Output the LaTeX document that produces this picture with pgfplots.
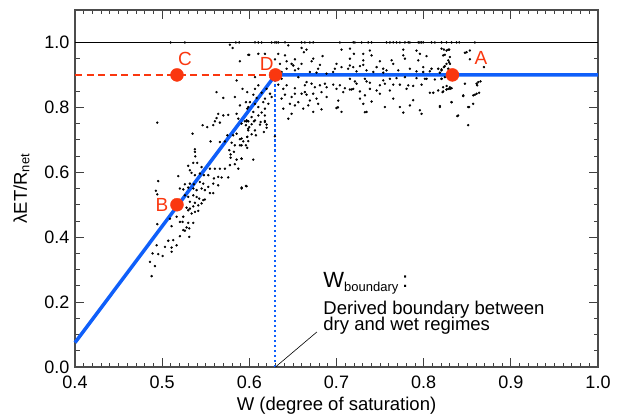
\documentclass[border=0pt]{standalone}
\usepackage{fontspec}
\setmainfont{Liberation Sans}
\usepackage{pgfplots}
\pgfplotsset{compat=1.18}
\definecolor{myred}{RGB}{250,55,15}
\definecolor{myblue}{RGB}{15,95,250}
\begin{document}
\begin{tikzpicture}
\begin{axis}[
  name=ax,
  scale only axis, width=523pt, height=357pt,
  xmin=0.4, xmax=1.0, ymin=0, ymax=1.1,
  xtick={0.4,0.5,...,1.0}, ytick={0,0.2,...,1.0},
  minor x tick num=9, minor y tick num=3,
  tick align=inside, major tick length=9pt, minor tick length=4.5pt,
  tick style={black!75, line width=0.8pt},
  axis line style={black!70, line width=1.3pt},
  ticklabel style={font=\fontsize{18}{20}\selectfont},
  xticklabel style={yshift=-5pt},
  yticklabel style={xshift=-2pt},
  /pgf/number format/assume math mode=true,
  /pgf/number format/.cd, fixed, fixed zerofill, precision=1, /pgfplots/.cd,
  xlabel={W (degree of saturation)},
  ylabel={λET/R\textsubscript{net}},
  label style={font=\fontsize{18.5}{20}\selectfont},
  xlabel style={yshift=-2pt},
  ylabel style={yshift=8pt},
  clip=false,
]
\addplot[black, line width=0.8pt] coordinates {(0.4,1.0) (1.0,1.0)};
\addplot[only marks, mark=*, mark size=1pt, black] table {
x y
0.5376 0.663
0.538 0.649
0.5785 0.655
0.5785 0.645
0.5854 0.639
0.5911 0.642
0.5299 0.620
0.5357 0.629
0.5402 0.629
0.5452 0.616
0.5548 0.611
0.5605 0.611
0.5662 0.611
0.5720 0.611
0.5777 0.622
0.5834 0.625
0.5873 0.611
0.5318 0.606
0.5337 0.598
0.5376 0.591
0.5433 0.596
0.5479 0.591
0.5529 0.591
0.5594 0.581
0.5643 0.586
0.5682 0.584
0.5758 0.584
0.5185 0.588
0.4955 0.573
0.5261 0.563
0.5318 0.565
0.5364 0.563
0.5433 0.570
0.5471 0.565
0.5529 0.555
0.5586 0.565
0.5643 0.560
0.5911 0.553
0.5961 0.558
0.4928 0.543
0.4944 0.532
0.5204 0.550
0.5242 0.547
0.5299 0.553
0.5357 0.550
0.5395 0.545
0.5452 0.550
0.5490 0.545
0.5548 0.536
0.5586 0.536
0.5261 0.529
0.5299 0.524
0.5357 0.529
0.5395 0.524
0.5425 0.519
0.5471 0.514
0.5318 0.509
0.5376 0.506
0.5414 0.498
0.5452 0.504
0.5490 0.516
0.5280 0.491
0.5318 0.488
0.5357 0.495
0.5414 0.481
0.5376 0.478
0.5337 0.473
0.5299 0.483
0.5089 0.457
0.5165 0.463
0.5242 0.463
0.5204 0.447
0.5234 0.447
0.5299 0.444
0.5357 0.444
0.4944 0.440
0.5108 0.434
0.5280 0.430
0.5311 0.427
0.5261 0.420
0.5242 0.422
0.5204 0.403
0.5311 0.401
0.5127 0.391
0.5070 0.389
0.5032 0.370
0.5108 0.368
0.5165 0.375
0.5108 0.355
0.4936 0.375
0.4890 0.350
0.4955 0.348
0.5005 0.342
0.4860 0.324
0.4917 0.311
0.4879 0.280
0.5097 1.0
0.5261 1.0
0.5777 0.993
0.5808 0.983
0.5846 1.0
0.5884 1.0
0.5892 0.942
0.5999 0.962
0.5854 0.883
0.5922 0.857
0.5976 0.847
0.5624 0.847
0.5701 0.829
0.5834 0.832
0.5892 0.806
0.5961 0.816
0.5976 0.796
0.4944 0.753
0.5349 0.719
0.5464 0.745
0.5517 0.739
0.5586 0.745
0.5624 0.767
0.5643 0.780
0.5701 0.775
0.5758 0.777
0.5605 0.757
0.5662 0.753
0.5854 0.780
0.5873 0.765
0.5911 0.750
0.5968 0.757
0.5987 0.734
0.5747 0.714
0.5815 0.714
0.5854 0.719
0.5892 0.702
0.5930 0.695
0.5976 0.709
0.5555 0.695
0.5662 0.693
0.5720 0.695
0.5796 0.691
0.5834 0.683
0.5892 0.683
0.5961 0.683
0.5770 0.668
0.5823 0.663
0.5376 0.671
0.5949 0.757
0.5988 0.757
0.6053 0.757
0.6129 0.755
0.6179 0.758
0.5961 0.745
0.6026 0.748
0.5999 0.739
0.6198 0.737
0.6167 0.724
0.5988 0.729
0.6064 0.729
0.6026 0.717
0.6076 0.714
0.6293 0.711
0.5976 0.709
0.5911 0.704
0.5988 0.696
0.5911 0.683
0.5976 0.675
0.5911 0.642
0.6045 0.639
0.5911 0.550
0.5968 0.557
0.6065 1.0
0.6103 1.0
0.6141 1.0
0.6256 1.0
0.6294 1.0
0.6313 1.0
0.6332 1.0
0.6409 1.0
0.6447 0.991
0.5988 0.962
0.6103 0.965
0.6179 0.965
0.6332 0.965
0.6409 0.960
0.6294 0.948
0.6428 0.942
0.6523 0.948
0.6351 0.934
0.6485 0.934
0.6428 0.919
0.6504 0.929
0.6562 0.919
0.637 0.909
0.6523 0.914
0.6065 0.893
0.637 0.888
0.6562 0.893
0.6103 0.868
0.6332 0.870
0.6428 0.868
0.639 0.857
0.6523 0.859
0.6065 0.857
0.6198 0.857
0.6141 0.845
0.6046 0.839
0.6237 0.842
0.6409 0.839
0.6523 0.842
0.6084 0.829
0.6179 0.827
0.6256 0.832
0.637 0.827
0.6485 0.832
0.6007 0.816
0.6065 0.811
0.616 0.816
0.6218 0.811
0.6466 0.811
0.6562 0.816
0.5988 0.801
0.6103 0.801
0.6179 0.796
0.639 0.796
0.6523 0.806
0.6046 0.786
0.6141 0.784
0.6179 0.775
0.6026 0.770
0.6103 0.775
0.5969 0.760
0.6065 0.760
0.6179 0.755
0.6447 0.765
0.6485 0.780
0.6122 0.747
0.6198 0.747
0.6599 1.0
0.6637 1.0
0.6695 1.0
0.6733 1.0
0.7039 1.0
0.7192 1.0
0.6599 0.983
0.6656 0.978
0.6626 0.970
0.6733 0.950
0.6714 0.942
0.684 0.958
0.7058 0.978
0.6599 0.934
0.681 0.931
0.679 0.919
0.70 0.934
0.7153 0.929
0.7134 0.919
0.7058 0.924
0.6981 0.919
0.6962 0.909
0.6886 0.904
0.6695 0.909
0.6771 0.907
0.6656 0.878
0.6637 0.868
0.6714 0.873
0.6752 0.862
0.681 0.868
0.6867 0.873
0.6886 0.862
0.6962 0.870
0.7039 0.868
0.7096 0.859
0.7153 0.855
0.7192 0.857
0.70 0.857
0.6599 0.842
0.6637 0.847
0.6656 0.839
0.6733 0.842
0.6828 0.847
0.6886 0.832
0.7077 0.847
0.6695 0.821
0.6771 0.827
0.702 0.821
0.6676 0.806
0.679 0.811
0.6618 0.796
0.6828 0.794
0.70 0.798
0.6733 0.786
0.7058 0.786
0.7016 0.800
0.7326 0.785
0.7211 1.0
0.7288 1.0
0.7364 1.0
0.7402 1.0
0.7574 1.0
0.7613 1.0
0.7651 1.0
0.7689 1.0
0.7727 1.0
0.7785 1.0
0.7823 1.0
0.7842 1.0
0.7938 1.0
0.7957 1.0
0.7976 1.0
0.7995 1.0
0.809 1.0
0.8129 1.0
0.7154 0.981
0.7200 0.965
0.7307 0.965
0.7383 0.975
0.7402 0.960
0.7766 0.978
0.7918 0.975
0.7766 0.960
0.7957 0.965
0.8205 0.981
0.8263 0.975
0.8293 0.978
0.7154 0.950
0.7307 0.945
0.7498 0.942
0.7632 0.945
0.7785 0.950
0.7938 0.945
0.8033 0.958
0.8224 0.960
0.8282 0.945
0.8492 0.970
0.8530 0.975
0.7192 0.924
0.7269 0.927
0.7307 0.931
0.746 0.924
0.7536 0.919
0.7574 0.914
0.7651 0.934
0.7842 0.919
0.7995 0.924
0.8071 0.911
0.809 0.919
0.8167 0.919
0.8243 0.927
0.8301 0.934
0.723 0.911
0.7345 0.914
0.7422 0.909
0.7536 0.907
0.7708 0.914
0.7918 0.911
0.7995 0.909
0.8186 0.907
0.8205 0.914
0.7154 0.888
0.7211 0.880
0.7326 0.888
0.7345 0.880
0.7383 0.876
0.7536 0.883
0.7613 0.888
0.7689 0.890
0.7785 0.893
0.7918 0.890
0.8033 0.888
0.8129 0.886
0.8205 0.888
0.723 0.873
0.7498 0.868
0.7555 0.873
0.7651 0.870
0.7727 0.870
0.7823 0.868
0.788 0.866
0.7976 0.870
0.8014 0.888
0.8263 0.866
0.8282 0.857
0.8473 0.873
0.8607 0.873
0.8626 0.878
0.7173 0.855
0.7269 0.849
0.7383 0.857
0.746 0.852
0.7613 0.852
0.7804 0.857
0.8071 0.845
0.8110 0.845
0.8167 0.852
0.8224 0.849
0.8301 0.857
0.7269 0.827
0.7326 0.837
0.7498 0.842
0.7651 0.827
0.788 0.822
0.8454 0.835
0.8607 0.842
0.8568 0.837
0.7307 0.811
0.7402 0.818
0.7555 0.801
0.7727 0.801
0.7842 0.806
0.8186 0.804
0.8320 0.816
0.8511 0.801
0.7345 0.786
0.7766 0.784
0.7957 0.791
0.7976 0.780
0.8396 0.775
0.8511 0.745
0.8205 1.0
0.8262 1.0
0.832 1.0
0.8377 1.0
0.8408 1.0
0.8587 1.0
0.8232 0.978
0.8282 0.978
0.8243 0.962
0.8301 0.955
0.8473 0.968
0.853 0.948
0.8262 0.934
0.8293 0.939
0.8232 0.924
0.8205 0.917
0.8282 0.919
0.8691 0.924
0.8205 0.888
0.8243 0.893
0.8652 0.880
0.8614 0.868
0.8224 0.862
0.8262 0.855
0.8301 0.862
0.8320 0.859
0.8217 0.847
0.8637 0.845
0.8587 0.839
0.8454 0.837
0.8320 0.816
0.8568 0.811
0.8522 0.801
0.8385 0.773
0.8186 0.801
};
\addplot[color=myblue, line width=2pt, dash pattern=on 2.5pt off 2.5pt] coordinates {(0.63,0) (0.63,0.9)};
\addplot[myred, line width=1.3pt, dash pattern=on 7pt off 4.5pt] coordinates {(0.4,0.9) (0.63,0.9)};
\addplot[myblue, line width=3.5pt] coordinates {(0.4,0.075) (0.63,0.9) (1.0,0.9)};
\addplot[black, line width=0.6pt] coordinates {(0.63,0) (0.6775,0.108)};
\addplot[only marks, mark=*, mark size=6.5pt, myred] coordinates {(0.833,0.9) (0.517,0.5) (0.517,0.9) (0.63,0.9)};
\node[myred, font=\fontsize{19}{20}\selectfont] at (axis cs:0.8656,0.951) {A};
\node[myred, font=\fontsize{19}{20}\selectfont] at (axis cs:0.4998,0.498) {B};
\node[myred, font=\fontsize{19}{20}\selectfont] at (axis cs:0.5261,0.948) {C};
\node[myred, font=\fontsize{19}{20}\selectfont] at (axis cs:0.620,0.935) {D};
\node[anchor=base west, inner sep=0pt, font=\fontsize{22}{24}\selectfont] at (axis cs:0.6848,0.246) {W\raisebox{-4.5pt}{\fontsize{13}{14}\selectfont boundary}\,:};
\node[anchor=base west, inner sep=0pt, font=\fontsize{18.5}{20}\selectfont] at (axis cs:0.6848,0.163) {Derived boundary between};
\node[anchor=base west, inner sep=0pt, font=\fontsize{18.5}{20}\selectfont] at (axis cs:0.6848,0.111) {dry and wet regimes};
\end{axis}
\path ([xshift=-75pt,yshift=-50pt]ax.south west) rectangle ([xshift=24pt,yshift=10pt]ax.north east);
\end{tikzpicture}
\end{document}
